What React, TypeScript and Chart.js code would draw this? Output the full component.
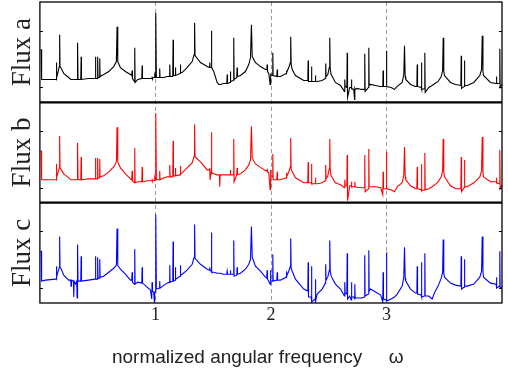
import React, { useEffect, useRef } from 'react';
import { Chart, registerables } from 'chart.js';

Chart.register(...registerables);

// normalized angular frequency (shared sampling of the three spectra)
const omega = [
  0.004, 0.012, 0.015, 0.048, 0.134, 0.140, 0.143, 0.146, 0.158, 0.168,
  0.171, 0.174, 0.186, 0.206, 0.249, 0.267, 0.270, 0.273, 0.290, 0.293,
  0.296, 0.309, 0.319, 0.322, 0.325, 0.327, 0.330, 0.354, 0.357, 0.360,
  0.420, 0.478, 0.481, 0.484, 0.497, 0.500, 0.503, 0.515, 0.518, 0.521,
  0.552, 0.596, 0.639, 0.662, 0.668, 0.674, 0.697, 0.740, 0.784, 0.795,
  0.798, 0.801, 0.818, 0.821, 0.824, 0.847, 0.882, 0.885, 0.888, 0.899,
  0.928, 0.957, 0.968, 0.971, 0.974, 0.985, 0.991, 0.994, 0.998, 1.003,
  1.008, 1.034, 1.037, 1.040, 1.074, 1.101, 1.121, 1.124, 1.127, 1.150,
  1.153, 1.156, 1.170, 1.173, 1.176, 1.213, 1.216, 1.219, 1.231, 1.274,
  1.318, 1.335, 1.339, 1.343, 1.390, 1.448, 1.467, 1.470, 1.473, 1.482,
  1.485, 1.488, 1.505, 1.534, 1.548, 1.554, 1.557, 1.560, 1.591, 1.618,
  1.621, 1.624, 1.646, 1.649, 1.652, 1.675, 1.678, 1.681, 1.704, 1.707,
  1.710, 1.736, 1.779, 1.808, 1.823, 1.831, 1.838, 1.866, 1.909, 1.952,
  1.964, 1.967, 1.970, 1.981, 1.993, 1.996, 1.999, 2.013, 2.016, 2.019,
  2.051, 2.054, 2.057, 2.082, 2.131, 2.134, 2.137, 2.154, 2.168, 2.171,
  2.175, 2.184, 2.212, 2.255, 2.284, 2.319, 2.322, 2.325, 2.348, 2.351,
  2.354, 2.382, 2.385, 2.388, 2.400, 2.443, 2.471, 2.474, 2.477, 2.492,
  2.505, 2.509, 2.513, 2.521, 2.558, 2.602, 2.636, 2.639, 2.642, 2.657,
  2.660, 2.663, 2.682, 2.694, 2.697, 2.700, 2.717, 2.724, 2.726, 2.729,
  2.746, 2.784, 2.809, 2.812, 2.815, 2.844, 2.847, 2.850, 2.861, 2.905,
  2.950, 2.968, 2.971, 2.974, 2.997, 3.000, 3.003, 3.040, 3.069, 3.093,
  3.136, 3.150, 3.156, 3.162, 3.167, 3.208, 3.251, 3.263, 3.266, 3.269,
  3.300, 3.303, 3.306, 3.329, 3.332, 3.335, 3.366, 3.395, 3.419, 3.447,
  3.474, 3.486, 3.491, 3.496, 3.502, 3.554, 3.597, 3.644, 3.647, 3.650,
  3.672, 3.675, 3.678, 3.699, 3.756, 3.808, 3.823, 3.829, 3.835, 3.840,
  3.900, 3.949, 3.952, 3.955, 3.978, 3.981, 3.984, 4.000,
];

const fluxA = [
  53, 53, 23, 23, 23, 23, 40, 25, 31, 36,
  68, 36, 34, 29, 25, 23, 23, 23, 23, 23,
  23, 23, 23, 23, 23, 60, 23, 23, 46, 23,
  24, 24, 46, 24, 24, 46, 25, 25, 44, 26,
  28, 31, 36, 41, 76, 41, 35, 31, 28, 27,
  32, 24, 21, 55, 20, 23, 24, 37, 24, 24,
  24, 24, 24, 25, 24, 25, 25, 27, 25, 90,
  25, 25, 34, 25, 25, 26, 26, 38, 26, 26,
  63, 27, 27, 35, 27, 29, 38, 30, 30, 35,
  41, 48, 80, 47, 40, 36, 35, 40, 35, 35,
  72, 35, 31, 20, 18, 18, 18, 18, 19, 19,
  28, 19, 20, 31, 21, 22, 65, 23, 25, 35,
  26, 27, 31, 38, 45, 78, 46, 40, 36, 33,
  33, 38, 31, 29, 18, 29, 28, 27, 50, 27,
  26, 33, 26, 26, 29, 32, 30, 35, 40, 66,
  38, 33, 27, 24, 22, 22, 42, 21, 21, 36,
  21, 21, 27, 21, 21, 22, 24, 39, 26, 28,
  35, 65, 34, 28, 20, 17, 11, 23, 16, 15,
  50, 5, 15, 15, 23, 14, 13, 3, 14, 13,
  14, 13, 13, 49, 11, 15, 55, 17, 18, 17,
  16, 16, 32, 16, 16, 52, 16, 15, 13, 16,
  20, 28, 57, 26, 23, 18, 16, 16, 38, 16,
  15, 40, 13, 14, 50, 10, 15, 17, 19, 21,
  26, 32, 65, 31, 27, 20, 18, 17, 47, 14,
  16, 42, 17, 17, 20, 27, 33, 67, 31, 27,
  20, 19, 26, 19, 19, 54, 15, 18,
];

const fluxB = [
  52, 52, 23, 23, 23, 23, 39, 25, 31, 35,
  67, 35, 33, 29, 25, 23, 23, 23, 23, 23,
  23, 23, 23, 23, 23, 60, 23, 23, 46, 23,
  24, 24, 45, 24, 24, 45, 25, 25, 44, 26,
  27, 31, 36, 41, 76, 41, 35, 29, 24, 23,
  32, 22, 20, 55, 20, 21, 21, 36, 21, 21,
  22, 22, 22, 23, 22, 22, 22, 25, 23, 90,
  23, 23, 32, 23, 25, 26, 26, 38, 26, 26,
  62, 27, 27, 35, 27, 28, 37, 29, 30, 35,
  40, 47, 79, 46, 41, 33, 33, 35, 23, 31,
  71, 30, 29, 28, 28, 28, 16, 28, 28, 28,
  28, 28, 28, 33, 28, 28, 64, 21, 28, 35,
  28, 29, 33, 38, 43, 77, 45, 39, 35.5, 32.5,
  32, 33, 31, 30, 13, 33, 28, 26, 49, 23,
  23, 31, 23, 23, 25, 30, 26, 31, 36, 65,
  34, 31, 25, 22, 20, 20, 41, 20, 20, 39,
  19, 19, 25, 19, 19, 20, 22, 38, 24, 27,
  34, 64, 33, 27, 20, 18, 15, 23, 17, 17,
  48, 2, 17, 17, 21, 16, 16, 16, 21, 16,
  15.5, 15, 15, 48, 11, 14, 54, 16, 16, 16,
  15, 8, 31, 14, 14, 51, 14, 13, 11, 16,
  20, 28, 56, 26, 23, 17, 14, 14, 36, 14,
  13, 39, 12, 13, 50, 13, 14, 16, 18, 21,
  26, 32, 64, 31, 26, 17, 14, 14, 46, 11,
  15, 43, 16, 16, 20, 26, 32, 66, 30, 26,
  21, 21, 25, 20, 19, 53, 14, 18,
];

const fluxC = [
  52, 52, 22, 23, 24, 24, 37, 26, 32, 36,
  67, 36, 34, 28, 23, 23, 17, 23, 22, 6,
  22, 19, 22, 5, 22, 59, 22, 22, 47, 22,
  23, 24, 47, 24, 24, 46, 25, 25, 44, 26,
  27, 31, 35, 38, 75, 38, 34, 29, 23, 23,
  31, 21, 19, 54, 19, 21, 20, 36, 20, 19,
  16, 13, 4, 21, 12, 11, 1, 11, 11, 89,
  14, 15, 22, 15, 18, 20, 21, 38, 21, 22,
  62, 22, 23, 36, 24, 27, 38, 28, 29, 33,
  39, 46, 79, 45, 39, 34, 33, 36, 33, 32,
  71, 31, 31, 30, 30, 30, 30, 30, 29, 29,
  32, 29, 29, 33, 29, 29, 63, 27, 28, 36,
  29, 30, 34, 39, 44, 77, 46, 37, 32, 26,
  25, 33, 24, 22, 19, 33, 22, 22, 49, 22,
  23, 31, 23, 23, 26, 32, 27, 32, 37, 65,
  35, 32, 24, 18, 14, 12, 41, 6, 6, 37,
  1, 4, 24, 2, 9, 14, 20, 39, 23, 26,
  33, 63, 32, 27, 19, 14, 7, 21, 10, 9,
  50, 4, 7, 3, 21, 6, 6, 4, 19, 5,
  5, 5, 6, 48, 7, 9, 53, 12, 14, 11,
  8, 1, 31, 4, 3, 51, 2, 4, 6, 9,
  17, 26, 56, 25, 22, 14, 10, 10, 37, 9,
  8, 41, 6, 7, 50, 7, 7, 4, 11, 17,
  25, 31, 64, 30, 26, 20, 18, 17, 47, 14,
  16, 44, 17, 17, 19, 26, 32, 67, 31, 26,
  20, 19, 26, 15, 17, 52, 15, 16,
];

const panelLabels = ['Flux a', 'Flux b', 'Flux c'];
const seriesColors = ['#000000', '#ff0000', '#0000ff'];
const xTickValues = [1, 2, 3];
const yTickValues = [15, 72];
const xTitle = 'normalized angular frequency     \u03c9     ';

const panelFrame = {
  id: 'panelFrame',
  beforeDatasetsDraw(chart: any) {
    const { ctx, chartArea, scales } = chart;
    const xs = scales.x;
    ctx.save();
    ctx.strokeStyle = '#9a9a9a';
    ctx.lineWidth = 1;
    ctx.setLineDash([4, 3]);
    xs.ticks.forEach((t: any) => {
      if (!xTickValues.includes(t.value)) return;
      const px = Math.round(xs.getPixelForValue(t.value)) + 0.5;
      ctx.beginPath();
      ctx.moveTo(px, chartArea.top);
      ctx.lineTo(px, chartArea.bottom);
      ctx.stroke();
    });
    ctx.restore();
  },
  afterDatasetsDraw(chart: any) {
    const { ctx, chartArea } = chart;
    const { left, right, top, bottom } = chartArea;
    ctx.save();
    ctx.strokeStyle = '#000';
    // outer frame
    ctx.lineWidth = 1.3;
    ctx.strokeRect(left, top, right - left, bottom - top);
    // separators between panels
    ctx.lineWidth = 2.2;
    ['yA', 'yB'].forEach((id) => {
      const s = chart.scales[id];
      ctx.beginPath();
      ctx.moveTo(left, s.bottom);
      ctx.lineTo(right, s.bottom);
      ctx.stroke();
    });
    // inward tick marks
    ctx.lineWidth = 1;
    ['yA', 'yB', 'yC'].forEach((id) => {
      const s = chart.scales[id];
      s.ticks.forEach((t: any) => {
        const py = Math.round(s.getPixelForValue(t.value)) + 0.5;
        ctx.beginPath();
        ctx.moveTo(left, py);
        ctx.lineTo(left + 3, py);
        ctx.moveTo(right, py);
        ctx.lineTo(right - 3, py);
        ctx.stroke();
      });
    });
    ctx.restore();
  },
};

export default function App() {
  const ref = useRef<HTMLCanvasElement>(null);

  useEffect(() => {
    const canvas = ref.current;
    if (!canvas) return;
    const mk = (vals: number[]) => omega.map((x, i) => ({ x, y: vals[i] }));
    const yAxis = (label: string) => ({
      type: 'linear',
      position: 'left',
      stack: 'flux',
      stackWeight: 1,
      min: 0,
      max: 101,
      afterBuildTicks: (s: any) => {
        s.ticks = yTickValues.map((value) => ({ value }));
      },
      ticks: { display: false },
      grid: { display: false, drawTicks: false },
      border: { display: false },
      title: {
        display: true,
        text: label,
        color: '#222',
        font: { family: 'Liberation Serif', size: 27 },
        padding: { top: 0, bottom: 1 },
      },
    });
    const ds = (vals: number[], axis: string, color: string) => ({
      data: mk(vals),
      yAxisID: axis,
      borderColor: color,
      borderWidth: 1.1,
      pointRadius: 0,
      tension: 0,
      fill: false,
    });
    const chart = new Chart(canvas, {
      type: 'line',
      data: {
        datasets: [
          ds(fluxA, 'yA', seriesColors[0]),
          ds(fluxB, 'yB', seriesColors[1]),
          ds(fluxC, 'yC', seriesColors[2]),
        ],
      },
      options: {
        animation: false,
        responsive: false,
        events: [],
        layout: { padding: { left: 6.5, right: 6, top: 2, bottom: 0 } },
        plugins: { legend: { display: false }, tooltip: { enabled: false } },
        scales: {
          x: {
            type: 'linear',
            min: 0,
            max: 4,
            ticks: {
              stepSize: 1,
              autoSkip: false,
              maxRotation: 0,
              padding: 1,
              color: '#222',
              font: { family: 'Liberation Serif', size: 18 },
              callback: (v: any) => (xTickValues.includes(v) ? String(v) : ''),
            },
            grid: { display: false, drawTicks: false },
            border: { display: false },
            title: {
              display: true,
              text: xTitle,
              color: '#222',
              font: { family: 'Liberation Sans', size: 19 },
              padding: { top: 19.6, bottom: 5 },
            },
          },
          yC: yAxis(panelLabels[2]),
          yB: yAxis(panelLabels[1]),
          yA: yAxis(panelLabels[0]),
        } as any,
      },
      plugins: [panelFrame],
    } as any);
    return () => chart.destroy();
  }, []);

  return (
    <div style={{ position: 'absolute', left: 0, top: 0, width: 508, height: 374, background: '#fff' }}>
      <canvas ref={ref} width={508} height={374} />
    </div>
  );
}
